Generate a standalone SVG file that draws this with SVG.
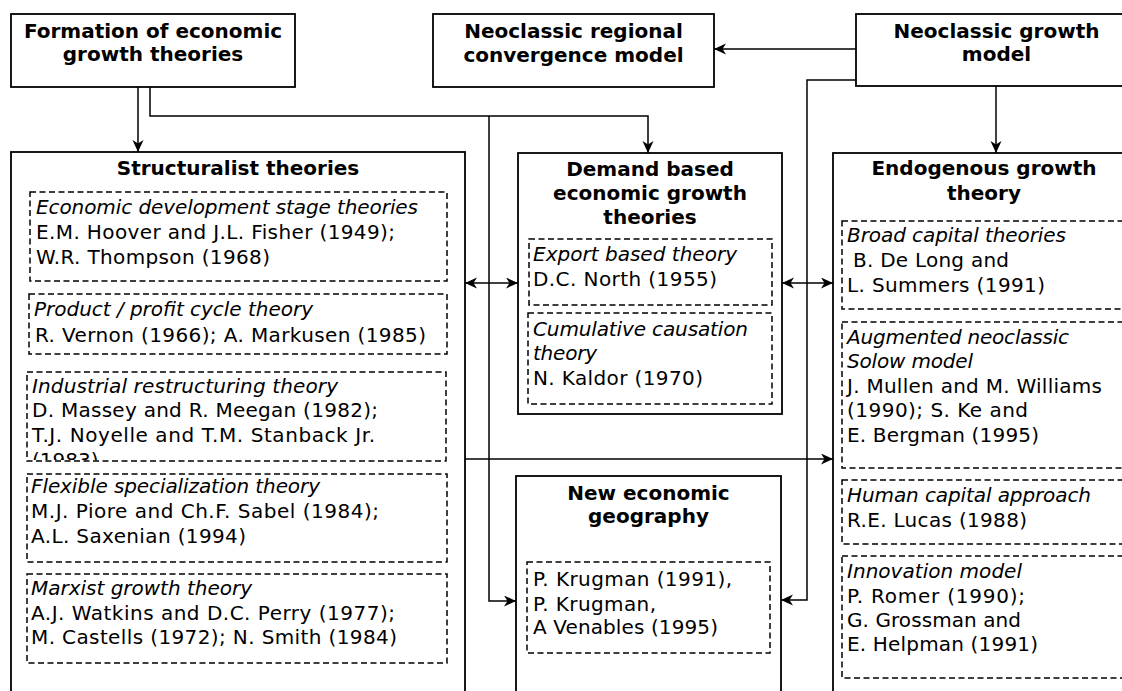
<svg xmlns="http://www.w3.org/2000/svg" width="1122" height="691" viewBox="0 0 1122 691">
<style>
.box{fill:#fff;stroke:#000;stroke-width:1.8}
.dash{fill:none;stroke:#000;stroke-width:1.5;stroke-dasharray:6 3.5}
.t{font-family:"DejaVu Sans",Verdana,sans-serif;font-size:20px;fill:#000}
.b{font-family:"DejaVu Sans",Verdana,sans-serif;font-size:20px;font-weight:bold;fill:#000;text-anchor:middle}
.i{font-style:italic}
.c{fill:none;stroke:#000;stroke-width:1.5}
</style>
<defs>
<marker id="ah" markerUnits="userSpaceOnUse" markerWidth="13" markerHeight="12" refX="12" refY="5.5" orient="auto-start-reverse">
<path d="M0,0 L12,5.5 L0,11 L3.5,5.5 z" fill="#000"/>
</marker>
<clipPath id="clip3"><rect x="27" y="372" width="420" height="88"/></clipPath>
</defs>
<rect width="1122" height="691" fill="#fff"/>

<g id="formation">
<rect class="box" x="11" y="14" width="284" height="73"/>
<text class="b" x="153" y="38">Formation of economic</text>
<text class="b" x="153" y="61">growth theories</text>
</g>

<g id="regional">
<rect class="box" x="433" y="14" width="281" height="73"/>
<text class="b" x="573.5" y="38">Neoclassic regional</text>
<text class="b" x="573.5" y="62">convergence model</text>
</g>

<g id="neoclassic">
<rect class="box" x="856" y="14" width="281" height="72"/>
<text class="b" x="996.5" y="38">Neoclassic growth</text>
<text class="b" x="996.5" y="61">model</text>
</g>

<g id="structuralist">
<rect class="box" x="11" y="152" width="454" height="560"/>
<text class="b" x="238" y="175">Structuralist theories</text>
<rect class="dash" x="30" y="192" width="417" height="89"/>
<text class="t i" x="36" y="214" textLength="382">Economic development stage theories</text>
<text class="t" x="36" y="239" textLength="359">E.M. Hoover and J.L. Fisher (1949);</text>
<text class="t" x="36" y="264" textLength="234">W.R. Thompson (1968)</text>
<rect class="dash" x="29" y="294" width="418" height="60"/>
<text class="t i" x="34" y="316" textLength="279">Product / profit cycle theory</text>
<text class="t" x="35" y="342" textLength="391">R. Vernon (1966); A. Markusen (1985)</text>
<rect class="dash" x="27" y="372" width="419" height="89"/>
<text class="t i" x="32" y="393" textLength="306">Industrial restructuring theory</text>
<text class="t" x="32" y="417" textLength="346">D. Massey and R. Meegan (1982);</text>
<text class="t" x="32" y="442" textLength="343">T.J. Noyelle and T.M. Stanback Jr.</text>
<text class="t" x="32" y="467" clip-path="url(#clip3)">(1983)</text>
<rect class="dash" x="27" y="474" width="420" height="88"/>
<text class="t i" x="31" y="493" textLength="289">Flexible specialization theory</text>
<text class="t" x="31" y="518" textLength="348">M.J. Piore and Ch.F. Sabel (1984);</text>
<text class="t" x="31" y="543" textLength="215">A.L. Saxenian (1994)</text>
<rect class="dash" x="27" y="574" width="420" height="89"/>
<text class="t i" x="31" y="595" textLength="221">Marxist growth theory</text>
<text class="t" x="31" y="620" textLength="364">A.J. Watkins and D.C. Perry (1977);</text>
<text class="t" x="31" y="644" textLength="366">M. Castells (1972); N. Smith (1984)</text>
</g>

<g id="demand">
<rect class="box" x="518" y="153" width="264" height="261"/>
<text class="b" x="650" y="176">Demand based</text>
<text class="b" x="650" y="200">economic growth</text>
<text class="b" x="650" y="224">theories</text>
<rect class="dash" x="529" y="239" width="243" height="66"/>
<text class="t i" x="533" y="261" textLength="204">Export based theory</text>
<text class="t" x="533" y="286" textLength="184">D.C. North (1955)</text>
<rect class="dash" x="528" y="313" width="244" height="91"/>
<text class="t i" x="533" y="336" textLength="215">Cumulative causation</text>
<text class="t i" x="533" y="360" textLength="64">theory</text>
<text class="t" x="533" y="385" textLength="170">N. Kaldor (1970)</text>
</g>

<g id="neg">
<rect class="box" x="516" y="476" width="265" height="240"/>
<text class="b" x="648.5" y="500">New economic</text>
<text class="b" x="648.5" y="523">geography</text>
<rect class="dash" x="527" y="562" width="243" height="91"/>
<text class="t" x="533" y="586" textLength="199">P. Krugman (1991),</text>
<text class="t" x="533" y="611" textLength="123">P. Krugman,</text>
<text class="t" x="533" y="634" textLength="185">A Venables (1995)</text>
</g>

<g id="endogenous">
<rect class="box" x="833" y="153" width="302" height="560"/>
<text class="b" x="984" y="175">Endogenous growth</text>
<text class="b" x="984" y="200">theory</text>
<rect class="dash" x="842" y="221" width="290" height="88"/>
<text class="t i" x="847" y="242" textLength="219">Broad capital theories</text>
<text class="t" x="853" y="267" textLength="156">B. De Long and</text>
<text class="t" x="847" y="292" textLength="198">L. Summers (1991)</text>
<rect class="dash" x="842" y="322" width="290" height="146"/>
<text class="t i" x="847" y="344" textLength="222">Augmented neoclassic</text>
<text class="t i" x="847" y="368" textLength="126">Solow model</text>
<text class="t" x="847" y="393" textLength="255">J. Mullen and M. Williams</text>
<text class="t" x="847" y="417" textLength="181">(1990); S. Ke and</text>
<text class="t" x="847" y="442" textLength="192">E. Bergman (1995)</text>
<rect class="dash" x="842" y="480" width="290" height="64"/>
<text class="t i" x="847" y="502" textLength="244">Human capital approach</text>
<text class="t" x="847" y="527" textLength="180">R.E. Lucas (1988)</text>
<rect class="dash" x="842" y="556" width="290" height="122"/>
<text class="t i" x="847" y="578" textLength="175">Innovation model</text>
<text class="t" x="847" y="603" textLength="178">P. Romer (1990);</text>
<text class="t" x="847" y="627" textLength="174">G. Grossman and</text>
<text class="t" x="847" y="651" textLength="191">E. Helpman (1991)</text>
</g>

<g id="connectors">
<line class="c" x1="138" y1="87" x2="138" y2="152" marker-end="url(#ah)"/>
<polyline class="c" points="150,87 150,116 648,116 648,153" marker-end="url(#ah)"/>
<polyline class="c" points="489,116 489,601 516,601" marker-end="url(#ah)"/>
<line class="c" x1="856" y1="49" x2="714" y2="49" marker-end="url(#ah)"/>
<line class="c" x1="996" y1="86" x2="996" y2="153" marker-end="url(#ah)"/>
<polyline class="c" points="856,80 807,80 807,600 781,600" marker-end="url(#ah)"/>
<line class="c" x1="465" y1="283" x2="518" y2="283" marker-start="url(#ah)" marker-end="url(#ah)"/>
<line class="c" x1="782" y1="283" x2="833" y2="283" marker-start="url(#ah)" marker-end="url(#ah)"/>
<line class="c" x1="465" y1="459" x2="833" y2="459" marker-end="url(#ah)"/>
</g>
</svg>
